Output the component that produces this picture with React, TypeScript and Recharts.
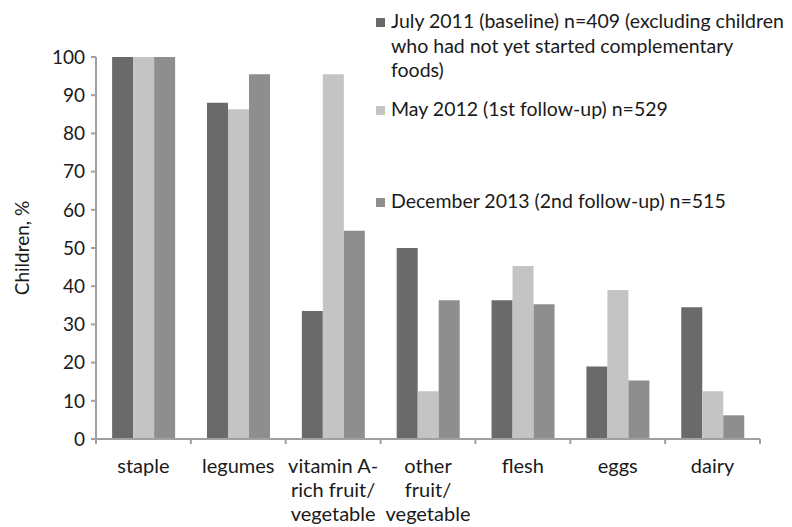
import React from 'react';
import { BarChart, Bar, XAxis, YAxis } from 'recharts';

const categories = ['staple', 'legumes', 'vitamin A-|rich fruit/|vegetable', 'other|fruit/|vegetable', 'flesh', 'eggs', 'dairy'];
const july2011 = [100, 88, 33.5, 50, 36.3, 19, 34.5];
const may2012 = [100, 86.3, 95.5, 12.5, 45.3, 39, 12.5];
const dec2013 = [100, 95.5, 54.5, 36.3, 35.3, 15.3, 6.2];
const yTicks = [0, 10, 20, 30, 40, 50, 60, 70, 80, 90, 100];

const seriesInfo = [
    { key: 'july', color: '#6a6a6a', lines: ['July 2011 (baseline) n=409 (excluding children', 'who had not yet started complementary', 'foods)'] },
    { key: 'may', color: '#c4c4c4', lines: ['May 2012 (1st follow-up) n=529'] },
    { key: 'dec', color: '#8e8e8e', lines: ['December 2013 (2nd follow-up) n=515'] },
];

const data = categories.map((name, i) => ({
    name,
    july: july2011[i],
    may: may2012[i],
    dec: dec2013[i],
}));

const WIDTH = 792;
const HEIGHT = 527;
const MARGIN = { top: 57, right: 32, bottom: 0, left: 36 };
const Y_AXIS_WIDTH = 60;
const PLOT_WIDTH = WIDTH - MARGIN.left - MARGIN.right - Y_AXIS_WIDTH;
const BAND = PLOT_WIDTH / categories.length;
const FONT = 'Lato, sans-serif';
const AXIS_COLOR = '#a0a0a0';
const TEXT_COLOR = '#1a1a1a';

const CategoryTick = (props: any) => {
    const { x, y, payload, index } = props;
    const lines = String(payload.value).split('|');
    return (
        <g>
            <line x1={x - BAND / 2} x2={x - BAND / 2} y1={y - 8} y2={y - 3} stroke={AXIS_COLOR} strokeWidth={2} />
            {index === categories.length - 1 && (
                <line x1={x + BAND / 2} x2={x + BAND / 2} y1={y - 8} y2={y - 3} stroke={AXIS_COLOR} strokeWidth={2} />
            )}
            <text x={x} y={y} textAnchor="middle" fill={TEXT_COLOR} fontSize={20} fontFamily={FONT}>
                {lines.map((l, i) => (
                    <tspan key={i} x={x} dy={i === 0 ? 26 : 24}>{l}</tspan>
                ))}
            </text>
        </g>
    );
};

const SeriesLegend = () => (
    <div style={{ position: 'absolute', left: 376, top: 0, fontFamily: FONT, fontSize: 19.5, color: TEXT_COLOR, lineHeight: '24.5px' }}>
        {seriesInfo.map((s, i) => (
            <div key={s.key} style={{ position: 'absolute', left: 0, top: [9, 97, 189][i], whiteSpace: 'nowrap' }}>
                <span style={{ position: 'absolute', left: 0, top: 9, width: 9, height: 9, background: s.color }} />
                <div style={{ paddingLeft: 15 }}>
                    {s.lines.map((l, j) => <div key={j}>{l}</div>)}
                </div>
            </div>
        ))}
    </div>
);

const App: React.FC = () => {
    return (
        <div style={{ position: 'absolute', left: 0, top: 0, width: WIDTH, height: HEIGHT, background: '#fff', overflow: 'hidden' }}>
            <BarChart
                width={WIDTH}
                height={HEIGHT}
                data={data}
                margin={MARGIN}
                barGap={0}
                barCategoryGap="17%"
            >
                <XAxis
                    dataKey="name"
                    interval={0}
                    height={HEIGHT - 439}
                    tick={<CategoryTick />}
                    tickLine={false}
                    axisLine={{ stroke: AXIS_COLOR, strokeWidth: 2 }}
                />
                <YAxis
                    width={Y_AXIS_WIDTH}
                    domain={[0, 100]}
                    ticks={yTicks}
                    interval={0}
                    tickSize={5}
                    tickMargin={6}
                    tickLine={{ stroke: AXIS_COLOR, strokeWidth: 2 }}
                    axisLine={{ stroke: AXIS_COLOR, strokeWidth: 2 }}
                    tick={{ fill: TEXT_COLOR, fontSize: 19, fontFamily: FONT }}
                    label={{
                        value: 'Children, %',
                        angle: -90,
                        position: 'insideLeft',
                        offset: -14,
                        style: { textAnchor: 'middle', fill: TEXT_COLOR, fontSize: 19, fontFamily: FONT },
                    }}
                />
                <Bar dataKey="july" fill="#6a6a6a" isAnimationActive={false} />
                <Bar dataKey="may" fill="#c4c4c4" isAnimationActive={false} />
                <Bar dataKey="dec" fill="#8e8e8e" isAnimationActive={false} />
            </BarChart>
            <SeriesLegend />
        </div>
    );
};

export default App;
